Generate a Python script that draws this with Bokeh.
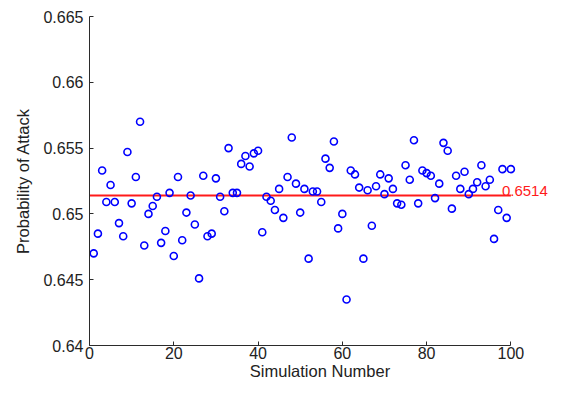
from bokeh.plotting import figure
from bokeh.models import Range1d, FixedTicker, CustomJSTickFormatter, Label
from bokeh.embed import file_html
from bokeh.resources import INLINE

# ---- data ----
simulation = list(range(1, 101))
probability = [
    0.6470, 0.6485, 0.6533, 0.6509, 0.6522, 0.6509, 0.6493, 0.6483, 0.6547, 0.6508,
    0.6528, 0.6570, 0.6476, 0.6500, 0.6506, 0.6513, 0.6478, 0.6487, 0.6516, 0.6468,
    0.6528, 0.6480, 0.6501, 0.6514, 0.6492, 0.6451, 0.6529, 0.6483, 0.6485, 0.6527,
    0.6513, 0.6502, 0.6550, 0.6516, 0.6516, 0.6538, 0.6544, 0.6536, 0.6546, 0.6548,
    0.6486, 0.6513, 0.6510, 0.6503, 0.6519, 0.6497, 0.6528, 0.6558, 0.6523, 0.6501,
    0.6519, 0.6466, 0.6517, 0.6517, 0.6509, 0.6542, 0.6535, 0.6555, 0.6489, 0.6500,
    0.6435, 0.6533, 0.6530, 0.6520, 0.6466, 0.6518, 0.6491, 0.6521, 0.6530, 0.6515,
    0.6527, 0.6519, 0.6508, 0.6507, 0.6537, 0.6526, 0.6556, 0.6508, 0.6533, 0.6531,
    0.6529, 0.6512, 0.6523, 0.6554, 0.6548, 0.6504, 0.6529, 0.6519, 0.6532, 0.6515,
    0.6519, 0.6524, 0.6537, 0.6521, 0.6526, 0.6481, 0.6503, 0.6534, 0.6497, 0.6534,
]
mean_value = 0.6514
mean_label = "0.6514"
x_ticks = [0, 20, 40, 60, 80, 100]
y_ticks = [0.64, 0.645, 0.65, 0.655, 0.66, 0.665]
x_title = "Simulation Number"
y_title = "Probability of Attack"

FONT = "Liberation Sans"
AX = "#2b2b2b"

x_lo, x_hi = x_ticks[0], x_ticks[-1]

p = figure(width=550, height=383, output_backend="svg", toolbar_location=None,
           x_range=Range1d(x_lo, 109.4), y_range=Range1d(y_ticks[0], y_ticks[-1]),
           min_border_left=89, min_border_right=0, min_border_top=16, min_border_bottom=38)
p.outline_line_color = None
p.grid.visible = False
p.background_fill_color = "white"
p.border_fill_color = "white"

p.xaxis.ticker = FixedTicker(ticks=x_ticks)
p.yaxis.ticker = FixedTicker(ticks=y_ticks)
p.yaxis.formatter = CustomJSTickFormatter(code="return String(Number(tick.toFixed(4)));")
p.xaxis.bounds = (x_lo, x_hi)

for ax in (p.xaxis[0], p.yaxis[0]):
    ax.major_tick_in = 4
    ax.major_tick_out = 0
    ax.minor_tick_in = 0
    ax.minor_tick_out = 0
    ax.axis_line_color = AX
    ax.major_tick_line_color = AX
    ax.axis_line_width = 1
    ax.major_label_text_font = FONT
    ax.major_label_text_font_size = "16px"
    ax.major_label_text_color = "#222222"
    ax.axis_label_text_font = FONT
    ax.axis_label_text_font_size = "16.5px"
    ax.axis_label_text_font_style = "normal"
    ax.axis_label_text_color = "#222222"

p.xaxis.axis_label = x_title
p.yaxis.axis_label = y_title
p.xaxis.major_label_standoff = 1
p.xaxis.axis_label_standoff = 0
p.yaxis.major_label_standoff = 6
p.yaxis.axis_label_standoff = 8

# mean line across the simulation range
p.line([x_lo, x_hi], [mean_value, mean_value], line_color="#ff1a1a", line_width=2)

p.scatter(simulation, probability, marker="circle", size=7, fill_color=None,
          line_color="#0000ff", line_width=1.6)

p.add_layout(Label(x=x_hi, y=mean_value, text=mean_label, x_offset=-9, y_offset=4,
                   text_color="#ff1a1a", text_font=FONT, text_font_size="15px",
                   text_baseline="alphabetic"))

open("out.html", "w").write(file_html(p, INLINE))
